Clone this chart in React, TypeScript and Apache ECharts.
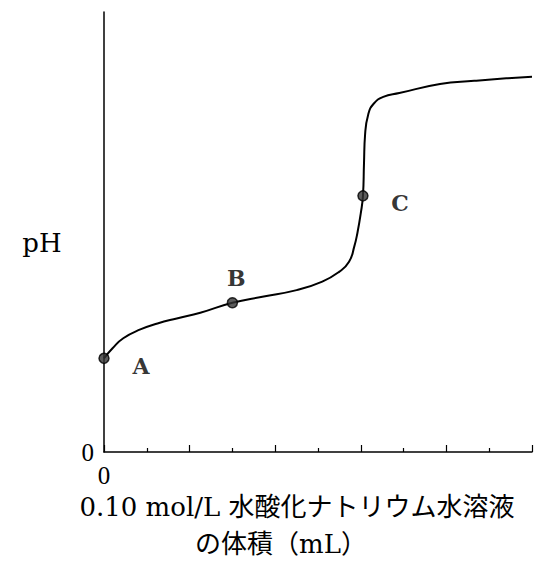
import React, { useEffect, useRef } from "react";
import * as echarts from "echarts";

// Titration curve: volume of 0.10 mol/L NaOH added (mL) vs pH
const volumes = [0, 0.4, 0.9, 1.7, 2.5, 3.4, 4.5, 6.0, 7.4, 9.0, 10.2, 11.0, 11.45, 11.7, 11.85, 12.0, 12.1, 12.15, 12.2, 12.35, 12.6, 13.05, 13.8, 15.7, 17.3, 18.8, 20.0];
const phValues = [2.98, 3.3, 3.62, 3.9, 4.09, 4.25, 4.43, 4.75, 4.94, 5.15, 5.42, 5.74, 6.05, 6.55, 7.0, 7.6, 8.15, 9.2, 10.1, 10.75, 11.08, 11.3, 11.42, 11.71, 11.81, 11.89, 11.94];

// Marked points on the curve
const pointNames = ["A", "B", "C"];
const pointVolumes = [0, 6.0, 12.1];
const pointPH = [2.98, 4.75, 8.15];

const xTickLabels = ["0"];
const yTickLabels = ["0"];

const xTitleLine1 = "0.10 mol/L 水酸化ナトリウム水溶液";
const xTitleLine2 = "の体積（mL）";
const yTitle = "pH";

const SERIF = '"Liberation Serif", "DejaVu Serif", "Noto Sans CJK JP", serif';
const WIDE_SERIF = '"DejaVu Serif", "Noto Sans CJK JP", serif';

export default function App() {
  const ref = useRef<HTMLDivElement>(null);

  useEffect(() => {
    document.body.style.margin = "0";
    if (!ref.current) return;
    const chart = echarts.init(ref.current, null, { renderer: "svg" });

    const labelOffsets: Record<string, number[]> = {
      A: [37, 8],
      B: [4, -25],
      C: [37, 7],
    };

    chart.setOption({
      animation: false,
      backgroundColor: "#ffffff",
      grid: { left: 104, right: 27, top: 12, bottom: 115 },
      xAxis: {
        type: "value",
        min: 0,
        max: 20,
        interval: 4,
        axisLine: { show: true, lineStyle: { color: "#000", width: 1.5 } },
        axisTick: { show: true, inside: true, length: 7, lineStyle: { color: "#000", width: 1.2 } },
        minorTick: { show: true, splitNumber: 2, length: 4, lineStyle: { color: "#000", width: 1.2 } },
        splitLine: { show: false },
        minorSplitLine: { show: false },
        axisLabel: {
          margin: 11,
          fontFamily: SERIF,
          fontSize: 25,
          color: "#000",
          formatter: (v: number) => (v === 0 ? xTickLabels[0] : ""),
        },
      },
      yAxis: {
        type: "value",
        min: 0,
        max: 14,
        interval: 14,
        axisLine: { show: true, lineStyle: { color: "#000", width: 1.5 } },
        axisTick: { show: false },
        splitLine: { show: false },
        axisLabel: {
          margin: 10,
          fontFamily: SERIF,
          fontSize: 25,
          color: "#000",
          formatter: (v: number) => (v === 0 ? yTickLabels[0] : ""),
        },
      },
      series: [
        {
          type: "line",
          data: volumes.map((v, i) => [v, phValues[i]]),
          smooth: 0.5,
          showSymbol: false,
          lineStyle: { color: "#000", width: 2 },
          z: 2,
        },
        {
          type: "scatter",
          data: pointNames.map((n, i) => ({ name: n, value: [pointVolumes[i], pointPH[i]] })),
          symbol: "circle",
          symbolSize: 10,
          itemStyle: { color: "#333", borderColor: "#000", borderWidth: 1.5 },
          label: {
            show: true,
            position: "inside",
            formatter: (p: any) => p.name,
            fontFamily: WIDE_SERIF,
            fontWeight: "bold",
            fontSize: 22,
            color: "#000",
          },
          labelLayout: (p: any) => {
            const name = pointNames[p.dataIndex];
            const off = labelOffsets[name];
            return { dx: off[0], dy: off[1] };
          },
          z: 3,
        },
      ],
      graphic: [
        {
          type: "text",
          x: 42,
          y: 243,
          style: { text: yTitle, font: `26px ${WIDE_SERIF}`, fill: "#000", textAlign: "center", textVerticalAlign: "middle" },
        },
        {
          type: "text",
          x: 297,
          y: 507,
          style: { text: xTitleLine1, font: `26px ${WIDE_SERIF}`, fill: "#000", textAlign: "center", textVerticalAlign: "middle" },
        },
        {
          type: "text",
          x: 281,
          y: 544,
          style: { text: xTitleLine2, font: `26px ${WIDE_SERIF}`, fill: "#000", textAlign: "center", textVerticalAlign: "middle" },
        },
      ],
    });

    return () => chart.dispose();
  }, []);

  return <div ref={ref} style={{ width: 559, height: 567 }} />;
}
